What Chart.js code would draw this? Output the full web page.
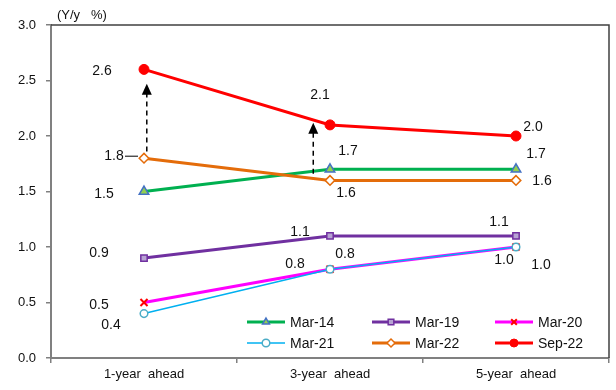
<!DOCTYPE html>
<html>
<head>
<meta charset="utf-8">
<script src="https://cdn.jsdelivr.net/npm/chart.js@4.4.1/dist/chart.umd.min.js"></script>
<style>
  html, body { margin: 0; padding: 0; background: #fff; }
  #wrap { width: 616px; height: 390px; position: relative; }
</style>
</head>
<body>
<div id="wrap"><canvas id="c" width="616" height="390"></canvas></div>
<script>
// Horizons of the expectation survey
const horizons = ['1-year  ahead', '3-year  ahead', '5-year  ahead'];

// Expected inflation (Y/y %) by survey round
const mar14 = [1.5, 1.7, 1.7];
const mar19 = [0.9, 1.1, 1.1];
const mar20 = [0.5, 0.8, 1.0];
const mar21 = [0.4, 0.8, 1.0];
const mar22 = [1.8, 1.6, 1.6];
const sep22 = [2.6, 2.1, 2.0];

const seriesNames = ['Mar-14', 'Mar-19', 'Mar-20', 'Mar-21', 'Mar-22', 'Sep-22'];

// Y axis tick values
const yTicks = [0.0, 0.5, 1.0, 1.5, 2.0, 2.5, 3.0];

// Change arrows: [x category position, from value, to value]
const arrows = [
  [0.015, 1.86, 2.47],
  [0.91, 1.66, 2.12]
];

const FONT = '"Liberation Sans", Arial, sans-serif';

// Label offsets (px) from each point, per series
const labelOffsets = {
  'Mar-14': [[-40, 3], [18, -18], [20, -15]],
  'Mar-19': [[-45, -5], [-30, -4], [-17, -14]],
  'Mar-20': [[-45, 3], [-35, -5], [-12, 13]],
  'Mar-21': [[-33, 12], [15, -15], [25, 18]],
  'Mar-22': [[-30, -2], [16, 13], [26, 1]],
  'Sep-22': [[-42, 2], [-10, -30], [17, -9]]
};

function ds(label, data, color, width, pointStyle, radius, fill, border, bw, order) {
  return {
    label, data, order,
    borderColor: color, borderWidth: width,
    pointStyle, pointRadius: radius, pointHoverRadius: radius,
    pointBackgroundColor: fill, pointBorderColor: border, pointBorderWidth: bw,
    tension: 0, fill: false
  };
}

// later survey rounds are drawn on top
const datasets = [
  ds(seriesNames[0], mar14, '#00B050', 3, 'triangle', 5.5, '#92D050', '#4472C4', 1.5, 6),
  ds(seriesNames[1], mar19, '#7030A0', 3, 'rect', 4.5, '#B7A3D3', '#7030A0', 1.5, 5),
  ds(seriesNames[2], mar20, '#FF00FF', 3, 'crossRot', 5, '#FF0000', '#FF0000', 2, 4),
  ds(seriesNames[3], mar21, '#00B0F0', 1.5, 'circle', 3.8, '#FFFFFF', '#4BACC6', 1.5, 3),
  ds(seriesNames[4], mar22, '#E46C0A', 3, 'rectRot', 4.8, '#FFFFFF', '#E46C0A', 1.5, 2),
  ds(seriesNames[5], sep22, '#FF0000', 3, 'circle', 5, '#FF0000', '#FF0000', 1, 1)
];

const decorPlugin = {
  id: 'decor',
  afterDatasetsDraw(chart) {
    const { ctx, chartArea: a, scales: { x, y } } = chart;
    ctx.save();

    // frame: top and right edges
    ctx.strokeStyle = '#404040';
    ctx.lineWidth = 1.5;
    ctx.beginPath();
    ctx.moveTo(a.left, a.top);
    ctx.lineTo(a.right, a.top);
    ctx.lineTo(a.right, a.bottom);
    ctx.stroke();

    // value labels
    ctx.font = '14px ' + FONT;
    ctx.fillStyle = '#111';
    ctx.textAlign = 'center';
    ctx.textBaseline = 'middle';
    chart.data.datasets.forEach((d, di) => {
      const meta = chart.getDatasetMeta(di);
      const offs = labelOffsets[d.label];
      meta.data.forEach((pt, i) => {
        const o = offs[i];
        ctx.fillText(d.data[i].toFixed(1), pt.x + o[0], pt.y + o[1]);
      });
    });

    // leader line for the Mar-22 1-year label
    const p = chart.getDatasetMeta(4).data[0];
    ctx.strokeStyle = '#000';
    ctx.lineWidth = 1;
    ctx.beginPath();
    ctx.moveTo(p.x - 19, p.y - 2);
    ctx.lineTo(p.x - 6, p.y - 2);
    ctx.stroke();

    // dashed change arrows
    arrows.forEach(([cx, v0, v1]) => {
      const px = x.getPixelForValue(cx);
      const y0 = y.getPixelForValue(v0);
      const y1 = y.getPixelForValue(v1);
      ctx.strokeStyle = '#000';
      ctx.lineWidth = 1.5;
      ctx.setLineDash([5, 4]);
      ctx.beginPath();
      ctx.moveTo(px, y0);
      ctx.lineTo(px, y1 + 10);
      ctx.stroke();
      ctx.setLineDash([]);
      ctx.fillStyle = '#000';
      ctx.beginPath();
      ctx.moveTo(px, y1);
      ctx.lineTo(px - 5, y1 + 11);
      ctx.lineTo(px + 5, y1 + 11);
      ctx.closePath();
      ctx.fill();
    });

    // unit caption
    ctx.font = '13px ' + FONT;
    ctx.fillStyle = '#111';
    ctx.textAlign = 'left';
    ctx.fillText('(Y/y   %)', 57, 15);

    // legend inside the plot, 3 columns x 2 rows
    const cols = [247, 372, 495];
    const rows = [322, 343];
    ctx.font = '14px ' + FONT;
    chart.data.datasets.forEach((d, di) => {
      const lx = cols[di % 3];
      const ly = rows[Math.floor(di / 3)];
      ctx.strokeStyle = d.borderColor;
      ctx.lineWidth = d.borderWidth;
      ctx.beginPath();
      ctx.moveTo(lx, ly);
      ctx.lineTo(lx + 38, ly);
      ctx.stroke();
      const r = Math.min(d.pointRadius, 4);
      ctx.fillStyle = d.pointBackgroundColor;
      ctx.strokeStyle = d.pointBorderColor;
      ctx.lineWidth = d.pointBorderWidth;
      Chart.helpers.drawPoint(ctx, { pointStyle: d.pointStyle, radius: r, borderWidth: d.pointBorderWidth, rotation: 0 }, lx + 19, ly);
      ctx.fillStyle = '#111';
      ctx.textAlign = 'left';
      ctx.fillText(d.label, lx + 43, ly + 1);
    });

    ctx.restore();
  }
};

new Chart(document.getElementById('c'), {
  type: 'line',
  data: { labels: horizons, datasets },
  options: {
    responsive: false,
    animation: false,
    layout: { padding: { top: 25, right: 1, left: 0, bottom: 0 } },
    plugins: { legend: { display: false }, tooltip: { enabled: false } },
    scales: {
      x: {
        offset: true,
        grid: { offset: true, drawOnChartArea: false, drawTicks: true, tickLength: 5, color: '#808080', lineWidth: 1.5 },
        border: { display: true, color: '#808080', width: 2 },
        ticks: { color: '#111', font: { family: FONT, size: 13 }, padding: 4, maxRotation: 0 },
        afterFit(s) { s.height = 32; s.paddingLeft = 0; s.paddingRight = 0; }
      },
      y: {
        min: 0, max: 3,
        afterBuildTicks(s) { s.ticks = yTicks.map(v => ({ value: v })); },
        grid: { drawOnChartArea: false, drawTicks: true, tickLength: 5, color: '#808080', lineWidth: 1.5 },
        border: { display: true, color: '#808080', width: 2 },
        ticks: { color: '#111', font: { family: FONT, size: 13 }, padding: 10, callback: v => Number(v).toFixed(1) },
        afterFit(s) { s.width = 51; s.paddingTop = 0; s.paddingBottom = 0; }
      }
    }
  },
  plugins: [decorPlugin]
});
</script>
</body>
</html>
